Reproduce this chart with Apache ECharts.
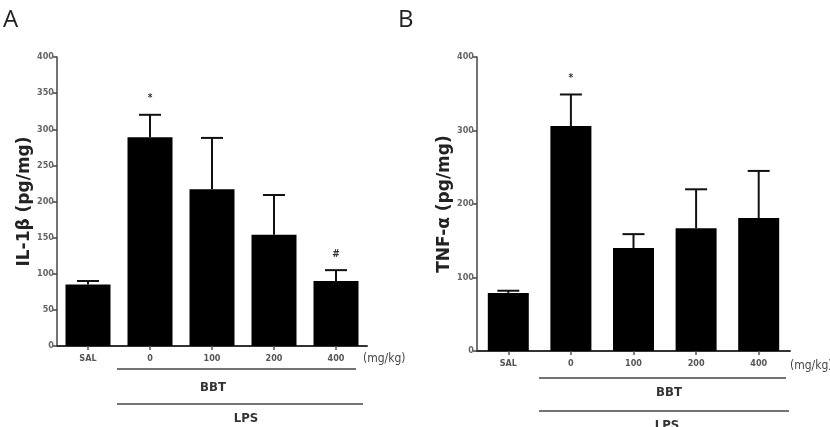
<!DOCTYPE html>
<html>
<head>
<meta charset="utf-8">
<script src="https://cdn.jsdelivr.net/npm/echarts@6/dist/echarts.min.js"></script>
<style>
  html, body { margin: 0; padding: 0; background: #fff; }
  #main { width: 830px; height: 427px; }
</style>
</head>
<body>
<div id="main"></div>
<script>
// data
const categories = ["SAL", "0", "100", "200", "400"];
const il1bMean = [85, 289, 217, 154, 90];
const il1bErr = [5, 31, 71, 55, 15];
const il1bMarks = ["", "*", "", "", "#"];
const tnfMean = [79, 306, 140, 167, 181];
const tnfErr = [3, 43, 19, 53, 64];
const tnfMarks = ["", "*", "", "", ""];

const tickFont = "'Liberation Sans Narrow', 'DejaVu Sans Condensed', sans-serif";
const titleFont = "'DejaVu Sans', sans-serif";

let chart = echarts.init(document.getElementById("main"));

// error bar (upper only, bar hides lower half) + significance mark
function errRender(marks) {
  return function (params, api) {
    let i = api.value(0);
    let top = api.coord([i, api.value(1)]);
    let hi = api.coord([i, api.value(2)]);
    let cap = 11;
    let children = [
      { type: "line", shape: { x1: top[0], y1: top[1], x2: hi[0], y2: hi[1] },
        style: { stroke: "#111", lineWidth: 2 } },
      { type: "line", shape: { x1: hi[0] - cap, y1: hi[1], x2: hi[0] + cap, y2: hi[1] },
        style: { stroke: "#111", lineWidth: 2 } },
    ];
    if (marks[i]) {
      children.push({
        type: "text",
        style: { text: marks[i], x: hi[0], y: hi[1] - 16, align: "center", verticalAlign: "middle",
                 fill: "#333", font: "bold 10px " + tickFont },
      });
    }
    return { type: "group", children: children };
  };
}

function yAxis(grid, name, interval, gap) {
  return {
    gridIndex: grid,
    type: "value",
    min: 0,
    max: 400,
    interval: interval,
    name: name,
    nameLocation: "middle",
    nameGap: gap,
    nameTextStyle: { fontFamily: titleFont, fontWeight: "bold", fontSize: 17, color: "#222", padding: [0, 0, 0, 0] },
    axisLine: { show: true, lineStyle: { color: "#444", width: 1.5 } },
    axisTick: { show: true, length: 4, lineStyle: { color: "#444", width: 1.5 } },
    axisLabel: { fontFamily: tickFont, fontWeight: "bold", fontSize: 9, color: "#666", margin: 3 },
    splitLine: { show: false },
  };
}

function xAxis(grid) {
  return {
    gridIndex: grid,
    type: "category",
    data: categories,
    axisLine: { lineStyle: { color: "#333", width: 2 } },
    axisTick: { show: true, alignWithLabel: true, length: 4, lineStyle: { color: "#555", width: 1.5 } },
    axisLabel: { fontFamily: tickFont, fontWeight: "bold", fontSize: 9, color: "#555", margin: 8 },
  };
}

let option = {
  animation: false,
  grid: [
    { left: 57, top: 57, width: 310, height: 289 },
    { left: 477, top: 57, width: 313, height: 294 },
  ],
  xAxis: [xAxis(0), xAxis(1)],
  yAxis: [yAxis(0, "IL-1β (pg/mg)", 50, 22), yAxis(1, "TNF-α (pg/mg)", 100, 24)],
  series: [
    { type: "bar", xAxisIndex: 0, yAxisIndex: 0, data: il1bMean, barWidth: 45,
      itemStyle: { color: "#000" } },
    { type: "custom", xAxisIndex: 0, yAxisIndex: 0, renderItem: errRender(il1bMarks),
      data: il1bMean.map((m, i) => [i, m, m + il1bErr[i]]), z: 3 },
    { type: "bar", xAxisIndex: 1, yAxisIndex: 1, data: tnfMean, barWidth: 41,
      itemStyle: { color: "#000" } },
    { type: "custom", xAxisIndex: 1, yAxisIndex: 1, renderItem: errRender(tnfMarks),
      data: tnfMean.map((m, i) => [i, m, m + tnfErr[i]]), z: 3 },
  ],
  graphic: [
    { type: "text", left: 3, top: 8, style: { text: "A", font: "24px 'Open Sans', sans-serif", fill: "#222" } },
    { type: "text", left: 398, top: 8, style: { text: "B", font: "24px 'Open Sans', sans-serif", fill: "#222" } },
    // panel A treatment labels
    { type: "text", x: 363, y: 359, style: { text: "(mg/kg)", font: "12px " + tickFont, fill: "#444", verticalAlign: "middle" } },
    { type: "line", shape: { x1: 117, y1: 369, x2: 356, y2: 369 }, style: { stroke: "#444", lineWidth: 1.5 } },
    { type: "text", x: 213, y: 388, style: { text: "BBT", font: "bold 13px " + tickFont, fill: "#333", align: "center", verticalAlign: "middle" } },
    { type: "line", shape: { x1: 117, y1: 404, x2: 363, y2: 404 }, style: { stroke: "#444", lineWidth: 1.5 } },
    { type: "text", x: 246, y: 419, style: { text: "LPS", font: "bold 13px " + tickFont, fill: "#333", align: "center", verticalAlign: "middle" } },
    // panel B treatment labels
    { type: "text", x: 790, y: 366, style: { text: "(mg/kg)", font: "12px " + tickFont, fill: "#444", verticalAlign: "middle" } },
    { type: "line", shape: { x1: 539, y1: 378, x2: 786, y2: 378 }, style: { stroke: "#444", lineWidth: 1.5 } },
    { type: "text", x: 669, y: 393, style: { text: "BBT", font: "bold 13px " + tickFont, fill: "#333", align: "center", verticalAlign: "middle" } },
    { type: "line", shape: { x1: 539, y1: 411, x2: 789, y2: 411 }, style: { stroke: "#444", lineWidth: 1.5 } },
    { type: "text", x: 667, y: 426, style: { text: "LPS", font: "bold 13px " + tickFont, fill: "#333", align: "center", verticalAlign: "middle" } },
  ],
};

chart.setOption(option);
</script>
</body>
</html>
